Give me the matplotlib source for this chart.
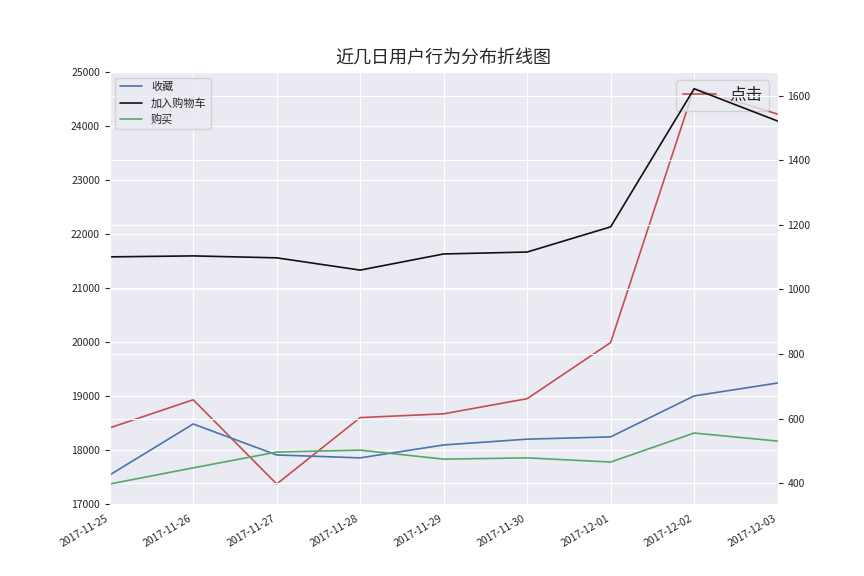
import matplotlib
matplotlib.use("Agg")
import matplotlib.pyplot as plt
import seaborn as sns

sns.set_style("darkgrid")
plt.rcParams["font.sans-serif"] = ["Noto Sans CJK SC", "DejaVu Sans"]
plt.rcParams["axes.unicode_minus"] = False

dates = ["2017-11-25", "2017-11-26", "2017-11-27", "2017-11-28", "2017-11-29",
         "2017-11-30", "2017-12-01", "2017-12-02", "2017-12-03"]
click = [18410, 18930, 17370, 18600, 18670, 18950, 19990, 24700, 24220]
fav = [425, 583, 487, 478, 518, 536, 543, 670, 710]
cart = [1101, 1104, 1098, 1060, 1110, 1116, 1194, 1622, 1522]
buy = [397, 447, 496, 502, 474, 478, 465, 555, 530]

x = list(range(len(dates)))
fig, ax1 = plt.subplots(figsize=(8.64, 5.76), dpi=100)
ax1.plot(x, click, color="#c44e52", lw=1.2, label="点击")
ax1.set_ylim(17000, 25000)
ax1.legend(loc="upper right", fontsize=12)
ax2 = ax1.twinx()
ax2.plot(x, fav, color="#4c72b0", lw=1.2, label="收藏")
ax2.plot(x, cart, color="#111111", lw=1.2, label="加入购物车")
ax2.plot(x, buy, color="#55a868", lw=1.2, label="购买")
ax2.set_ylim(335, 1674)
ax2.legend(loc="upper left", fontsize=8)
ax1.set_xlim(0, len(dates) - 1)
ax1.set_xticks(x)
ax1.set_xticklabels(dates, rotation=30, ha="right", fontsize=7.5)
ax1.tick_params(axis="y", labelsize=7.5)
ax2.tick_params(axis="y", labelsize=7.5)
ax1.set_title("近几日用户行为分布折线图", fontsize=13)
fig.subplots_adjust(left=0.127, right=0.9, top=0.875, bottom=0.125)
fig.savefig("out.png")
